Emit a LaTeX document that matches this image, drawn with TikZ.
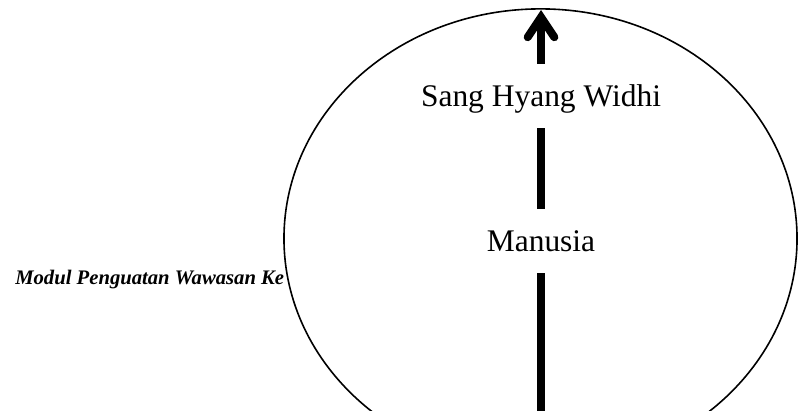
\documentclass[tikz,border=0pt]{standalone}
\usepackage{fontspec}
\setmainfont{Liberation Serif}
\usetikzlibrary{arrows.meta}
\begin{document}
\begin{tikzpicture}[x=0.75pt,y=-0.75pt,
  term/.style={font=\fontsize{23.6}{28}\selectfont, text height=15.6pt, text depth=0pt, inner xsep=2pt, inner ysep=16.2pt},
  axis/.style={line width=6pt}]
  \useasboundingbox (0,0) rectangle (798,410);
  \clip (0,0) rectangle (798,410);
  \node[anchor=base west, inner sep=0pt, font=\fontsize{15.5}{18}\selectfont\bfseries\itshape] (modul) at (15,284) {Modul Penguatan Wawasan Ke};
  \draw[line width=1.2pt, fill=white] (540.5,238.5) ellipse (192.4pt and 172.2pt);
  \coordinate (bottom) at (541,415);
  \coordinate (top) at (541,10);
  \node[term] (manusia) at (541,241) {Manusia};
  \node[term] (widhi) at (541,96) {Sang Hyang Widhi};
  \draw[axis] (bottom) -- (manusia);
  \draw[axis] (manusia) -- (widhi);
  \draw[axis, -{Straight Barb[length=15pt, width=20pt, line cap=round, line join=miter]}] (widhi) -- (top);
\end{tikzpicture}
\end{document}
